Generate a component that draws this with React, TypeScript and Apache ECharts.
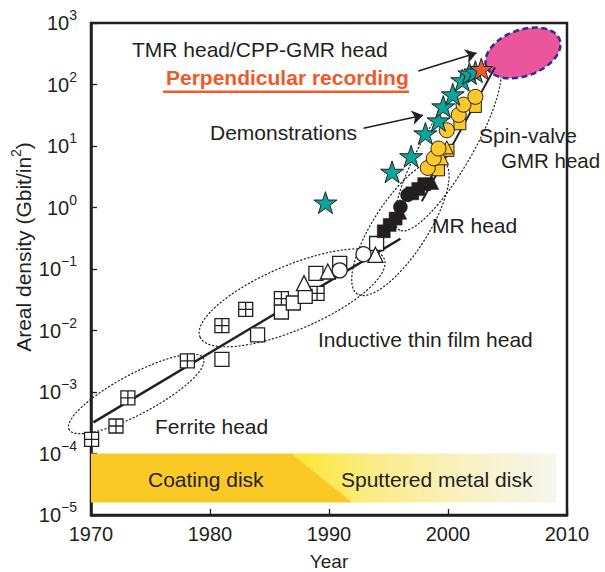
import React, { useEffect, useRef } from "react";
import * as echarts from "echarts";

// ---------- data (year, Gbit/in^2) ----------
const crossSquares = [
  [1970.05, 1.7e-4], [1972.1, 2.8e-4], [1973.1, 8e-4], [1978.1, 3.2e-3],
  [1981.0, 1.2e-2], [1983.0, 2.2e-2], [1986.0, 3.3e-2], [1989.0, 4e-2],
];
const openSquares = [
  [1981.0, 3.4e-3], [1984.0, 8.5e-3], [1986.0, 2e-2], [1987.0, 2.8e-2],
  [1988.0, 3.6e-2], [1988.9, 8.5e-2], [1990.9, 0.123], [1994.0, 0.26],
];
const openTriangles = [[1987.9, 0.059], [1989.9, 0.091], [1993.9, 0.17]];
const openCircles = [[1990.9, 0.095], [1992.9, 0.174]];

const mrSquares = [
  [1994.6, 0.41], [1995.1, 0.52], [1995.6, 0.66], [1997.0, 1.7], [1997.5, 2.0], [1998.0, 2.4],
];
const mrCircles = [[1996.0, 1.02], [1996.6, 1.6]];
const mrTriangles = [[1995.9, 0.85], [1998.6, 2.6]];

const gmrCircles = [
  [1998.3, 4.4], [1998.8, 6.3], [1999.2, 9.1], [1999.9, 18], [2000.9, 32], [2001.3, 47], [2002.3, 63],
];
const gmrSquares = [[1999.2, 4.1], [2000.0, 8.5], [2001.0, 23], [2002.3, 44]];
const gmrTriangles = [[1999.5, 6.3], [1999.9, 9.5]];

const demoStars = [
  [1989.7, 1.2], [1995.3, 3.8], [1996.9, 6.8], [1998.1, 16], [1999.2, 26],
  [1999.6, 44], [2000.4, 69], [2001.2, 117], [2001.8, 151], [2002.3, 162],
];
const perpStar = [[2002.8, 178]];

const trendInductive = [[1970.2, 3.2e-4], [1996.0, 0.31]];
const trendGmr = [[1997.8, 1.26], [2003.95, 190]];

const arrowTmr = [[1997.5, 166], [2002.4, 326]];
const arrowDemo = [[1992.9, 19.4], [1997.9, 31.7]];

const yearTicks = [1970, 1980, 1990, 2000, 2010];

// annotation shapes: centre in data units, radii in px, rotation in degrees
const dottedEllipses = [
  { name: "Ferrite head", center: [1973.8, 9.3e-4], rx: 76, ry: 20, rot: 28 },
  { name: "Inductive thin film head", center: [1986.9, 0.034], rx: 100, ry: 32, rot: 23 },
  { name: "MR head", center: [1996.0, 0.47], rx: 79, ry: 27, rot: 57 },
  { name: "Spin-valve GMR head", center: [2000.0, 10], rx: 97, ry: 25, rot: 60 },
];
const tmrRegion = [{ center: [2006.3, 326], rx: 39, ry: 23, rot: 20 }];

const bandTop = 1e-4;
const bandBottom = 1.6e-5;
const coatingEnd = [1986.85, 1992.0]; // top, bottom edge years
const sputterEnd = 2009.1;

// ---------- style ----------
const FONT = '"Liberation Sans", Arial, Helvetica, sans-serif';
const INK = "#231f20";
const TEAL = "#0ca59c";
const ORANGE = "#f05a28";
const YELLOW = "#fcc82b";

const STAR = "path://M50,0L61.23,34.55L97.55,34.55L68.16,55.9L79.39,90.45L50,69.1L20.61,90.45L31.84,55.9L2.45,34.55L38.77,34.55Z";
const CROSSBOX = "path://M0,0L10,0L10,10L0,10Z M5,0L5,10 M0,5L10,5";

const openStyle = { color: "#ffffff", borderColor: INK, borderWidth: 1.3, opacity: 1 };
const blackStyle = { color: INK, borderColor: INK, borderWidth: 0.5, opacity: 1 };
const yellowStyle = { color: YELLOW, borderColor: INK, borderWidth: 1, opacity: 1 };

function scatter(name: string, data: number[][], symbol: string, size: number, itemStyle: any, z = 4) {
  return {
    type: "scatter", name, data, symbol, symbolSize: size, symbolKeepAspect: true,
    itemStyle, z, silent: true,
  };
}

function ellipseSeries(name: string, list: any[], style: any, z: number) {
  return {
    type: "custom", name, z, silent: true,
    data: list.map((e) => e.center),
    encode: { x: 0, y: 1 },
    renderItem: (params: any, api: any) => {
      const e = list[params.dataIndex];
      const p = api.coord([api.value(0), api.value(1)]);
      return {
        type: "ellipse", x: p[0], y: p[1], rotation: (e.rot * Math.PI) / 180,
        shape: { cx: 0, cy: 0, rx: e.rx, ry: e.ry },
        style,
      };
    },
  };
}

function text(t: string, x: number, y: number, extra: any = {}) {
  return {
    type: "text", x, y, silent: true, z: 20,
    style: { text: t, fontSize: 21, fontFamily: FONT, fill: INK, align: "left", verticalAlign: "middle", ...extra },
  };
}

export default function App() {
  const ref = useRef<HTMLDivElement>(null);
  useEffect(() => {
    if (!ref.current) return;
    const chart = echarts.init(ref.current, null, { renderer: "svg" });

    const bands = {
      type: "custom", name: "disk bands", z: 1, silent: true,
      data: [[1990, 4e-5]],
      encode: { x: 0, y: 1 },
      renderItem: (_p: any, api: any) => {
        const tl = api.coord([coatingEnd[0], bandTop]);
        const bl = api.coord([coatingEnd[1], bandBottom]);
        const l0 = api.coord([1970, bandTop]);
        const l1 = api.coord([1970, bandBottom]);
        const r0 = api.coord([sputterEnd, bandTop]);
        const r1 = api.coord([sputterEnd, bandBottom]);
        return {
          type: "group",
          children: [
            {
              type: "polygon",
              shape: { points: [tl, r0, r1, bl] },
              style: {
                fill: new echarts.graphic.LinearGradient(0, 0, 1, 0, [
                  { offset: 0, color: "#fde52a" },
                  { offset: 0.3, color: "#fbec86" },
                  { offset: 0.65, color: "#f8f1c2" },
                  { offset: 1, color: "#f6f6ee" },
                ]),
              },
            },
            {
              type: "polygon",
              shape: { points: [l0, tl, bl, l1] },
              style: { fill: "#fbc926" },
            },
          ],
        };
      },
    };

    const option: any = {
      animation: false,
      backgroundColor: "#ffffff",
      grid: {
        left: 91, right: 38, top: 23, bottom: 57,
        containLabel: false, outerBoundsMode: "none",
        show: true, borderColor: INK, borderWidth: 2.5, backgroundColor: "transparent",
      },
      xAxis: {
        type: "value", min: 1970, max: 2010, interval: 10,
        axisLine: { show: true, lineStyle: { color: INK, width: 2.5 } },
        axisTick: { show: true, inside: true, length: 6, lineStyle: { color: INK, width: 1.3 } },
        axisLabel: {
          fontSize: 20, fontFamily: FONT, color: INK, margin: 9,
          formatter: (v: number) => (yearTicks.includes(Math.round(v)) ? String(Math.round(v)) : ""),
        },
        splitLine: { show: false },
        name: "Year", nameLocation: "middle", nameGap: 37,
        nameTextStyle: { fontSize: 19, fontFamily: FONT, color: INK },
      },
      yAxis: {
        type: "log", logBase: 10, min: 1e-5, max: 1e3, splitNumber: 8,
        axisLine: { show: true, lineStyle: { color: INK, width: 2.5 } },
        axisTick: { show: true, inside: true, length: 6, lineStyle: { color: INK, width: 1.3 } },
        minorTick: { show: false },
        splitLine: { show: false },
        axisLabel: {
          margin: 14,
          formatter: (v: number) => {
            const e = Math.round(Math.log10(v));
            return `{b|10}{s|${e < 0 ? "\u2212" + -e : e}}`;
          },
          rich: {
            b: { fontSize: 20, fontFamily: FONT, color: INK, lineHeight: 30 },
            s: { fontSize: 14, fontFamily: FONT, color: INK, verticalAlign: "top", lineHeight: 16 },
          },
        },
      },
      series: [
        bands,
        ellipseSeries("regions", dottedEllipses, { fill: "none", stroke: INK, lineWidth: 1.2, lineDash: [1.2, 2.6], lineCap: "round" }, 2),
        ellipseSeries("TMR/CPP-GMR", tmrRegion, { fill: "#ea559b", stroke: "#2e3192", lineWidth: 2.5, lineDash: [6, 3.5] }, 2),
        {
          type: "line", name: "trend inductive", data: trendInductive, showSymbol: false, symbol: "none",
          lineStyle: { color: INK, width: 2.5 }, z: 3, silent: true,
        },
        {
          type: "line", name: "trend GMR", data: trendGmr, showSymbol: false, symbol: "none",
          lineStyle: { color: INK, width: 2 }, z: 3, silent: true,
        },
        scatter("ferrite/thin film", crossSquares, CROSSBOX, 14, openStyle),
        scatter("thin film squares", openSquares, "rect", 14, openStyle),
        scatter("thin film triangles", openTriangles, "triangle", 15, openStyle),
        scatter("thin film circles", openCircles, "circle", 15, openStyle),
        scatter("MR squares", mrSquares, "rect", 13, blackStyle),
        scatter("MR circles", mrCircles, "circle", 14, blackStyle),
        scatter("MR triangles", mrTriangles, "triangle", 15, blackStyle),
        scatter("GMR squares", gmrSquares, "rect", 12, yellowStyle, 5),
        scatter("GMR triangles", gmrTriangles, "triangle", 13, yellowStyle, 5),
        scatter("GMR circles", gmrCircles, "circle", 15, yellowStyle, 5),
        scatter("Demonstrations", demoStars, STAR, 23, { color: TEAL, borderColor: INK, borderWidth: 1, opacity: 1 }, 6),
        scatter("Perpendicular", perpStar, STAR, 23, { color: ORANGE, borderColor: INK, borderWidth: 1, opacity: 1 }, 6),
        {
          type: "lines", coordinateSystem: "cartesian2d", name: "arrows", z: 7, silent: true,
          symbol: ["none", "arrow"], symbolSize: 11,
          lineStyle: { color: INK, width: 1.5, opacity: 1 },
          data: [{ coords: arrowTmr }, { coords: arrowDemo }],
        },
      ],
      graphic: [
        {
          type: "text", x: 23, y: 247, rotation: Math.PI / 2, silent: true, z: 20,
          style: {
            text: "Areal density (Gbit/in{s|2})",
            fontSize: 21, fontFamily: FONT, fill: INK, align: "center", verticalAlign: "middle",
            lineHeight: 28,
            rich: {
              s: { fontSize: 14, fontFamily: FONT, fill: INK, verticalAlign: "top", lineHeight: 16 },
            },
          },
        },
        text("TMR head/CPP-GMR head", 132, 49),
        text("Perpendicular recording", 166, 77, { fontWeight: "bold", fill: ORANGE, fontSize: 21 }),
        { type: "rect", silent: true, z: 20, shape: { x: 163, y: 90.5, width: 246, height: 2.5 }, style: { fill: ORANGE } },
        text("Demonstrations", 210, 132),
        text("Spin-valve", 479, 135),
        text("GMR head", 501, 160, { fontSize: 20.5 }),
        text("MR head", 432, 225),
        text("Inductive thin film head", 318, 339),
        text("Ferrite head", 155, 426),
        text("Coating disk", 148, 479),
        text("Sputtered metal disk", 341, 479, { fontSize: 21 }),
      ],
    };

    chart.setOption(option);
    return () => chart.dispose();
  }, []);

  return <div ref={ref} style={{ position: "absolute", left: 0, top: 0, width: 605, height: 572 }} />;
}
